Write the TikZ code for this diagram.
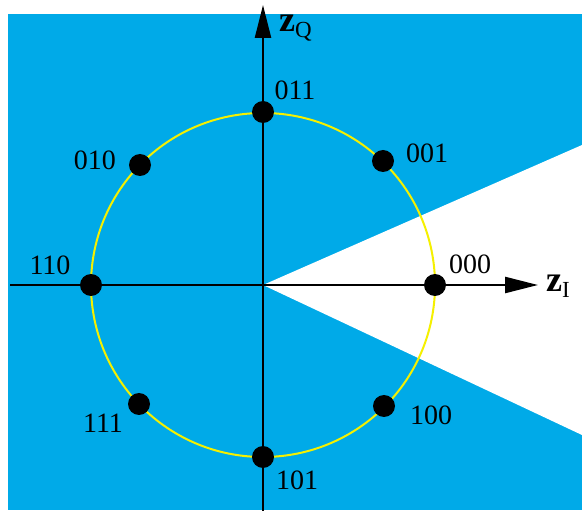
\documentclass[tikz,border=0pt]{standalone}
\usepackage{fontspec}
\setmainfont{Liberation Serif}
\usetikzlibrary{arrows.meta}
\definecolor{skyb}{RGB}{0,170,232}
\definecolor{ring}{RGB}{245,240,0}
\newcommand{\axname}[1]{{\fontsize{36pt}{36pt}\selectfont\bfseries z}{\fontsize{23pt}{23pt}\selectfont\raisebox{-6pt}{#1}}}
\tikzset{
  dot/.style={circle,fill=black,inner sep=0pt,minimum size=22pt},
  lab/.style={font=\fontsize{28pt}{28pt}\selectfont,inner sep=0pt},
  axis/.style={line width=2.4pt,-{Triangle[length=33pt,width=16pt]}},
  axlab/.style={anchor=base west,inner sep=0pt},
}
\begin{document}
\begin{tikzpicture}[x=1pt,y=-1pt]
\useasboundingbox (0,0) rectangle (582,513);
\fill[skyb] (8,14) rectangle (582,510);
\fill[white] (263,285) -- (582,145) -- (582,435) -- cycle;
\coordinate (O) at (263,285);
\draw[ring,line width=2pt] (O) circle (172);
\coordinate (xl) at (10,285);
\coordinate (xr) at (538,285);
\coordinate (yb) at (263,511);
\coordinate (yt) at (263,5);
\draw[axis] (xl) -- (xr);
\draw[axis] (yb) -- (yt);
\node[axlab] (zq) at (279,32) {\axname{Q}};
\node[axlab] (zi) at (546,292) {\axname{I}};
\node[dot] (p000) at (435,285) {};
\node[dot] (p001) at (383,161) {};
\node[dot] (p011) at (263,112) {};
\node[dot] (p010) at (140,165) {};
\node[dot] (p110) at (91,285) {};
\node[dot] (p111) at (139,404) {};
\node[dot] (p101) at (263,457) {};
\node[dot] (p100) at (384,406) {};
\node[lab] (l000) at (470,264) {000};
\node[lab] (l001) at (427,153) {001};
\node[lab] (l011) at (295,90) {011};
\node[lab] (l010) at (95,160) {010};
\node[lab] (l110) at (50,265) {110};
\node[lab] (l111) at (103,423) {111};
\node[lab] (l101) at (297,480) {101};
\node[lab] (l100) at (431,415) {100};
\end{tikzpicture}
\end{document}
